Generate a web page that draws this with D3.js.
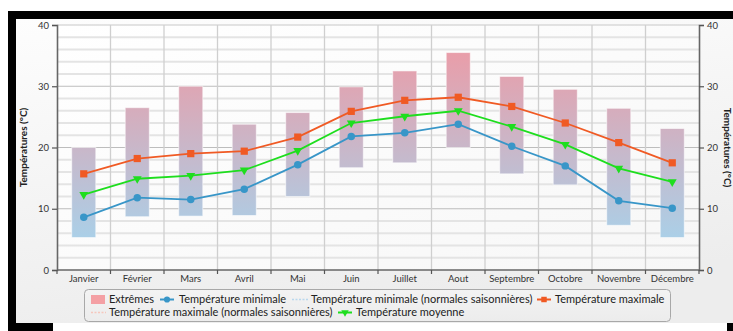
<!DOCTYPE html>
<html><head><meta charset="utf-8">
<script src="https://cdn.jsdelivr.net/npm/d3@7"></script>
<style>html,body{margin:0;padding:0;background:#fff;}svg{display:block;font-family:"Lato","Noto Sans",sans-serif;}</style>
</head><body>
<svg id="c" width="733" height="331"></svg>
<script>
const months = ["Janvier","Février","Mars","Avril","Mai","Juin","Juillet","Aout","Septembre","Octobre","Novembre","Décembre"];
const extremeLow  = [5.3, 8.7, 8.8, 8.9, 12.0, 16.7, 17.5, 20.0, 15.7, 13.9, 7.3, 5.3];
const extremeHigh = [20.0, 26.5, 30.0, 23.8, 25.7, 29.9, 32.5, 35.5, 31.6, 29.5, 26.4, 23.1];
const tempMin = [8.6, 11.8, 11.5, 13.2, 17.2, 21.8, 22.4, 23.8, 20.2, 17.0, 11.3, 10.1];
const tempMax = [15.7, 18.2, 19.0, 19.4, 21.7, 25.9, 27.7, 28.2, 26.7, 24.0, 20.8, 17.5];
const tempMoy = [12.3, 14.9, 15.4, 16.3, 19.5, 24.0, 25.1, 26.0, 23.4, 20.5, 16.6, 14.4];
const yTicks = [0, 10, 20, 30, 40];
const axisTitle = "Températures (°C)";
const legendLabels = ["Extrêmes","Température minimale","Température minimale (normales saisonnières)","Température maximale","Température maximale (normales saisonnières)","Température moyenne"];

const svg = d3.select("#c");
const defs = svg.append("defs");
const L = 57, R = 699, T = 25, B = 270;
const x = d3.scaleBand().domain(months).range([L, R]).padding(0);
const y = d3.scaleLinear().domain([0, 40]).range([B, T]);

// frame
svg.append("rect").attr("x",8).attr("y",11).attr("width",725).attr("height",320).attr("fill","#000");
const pg = defs.append("linearGradient").attr("id","panelG").attr("x1",0).attr("y1",0).attr("x2",0.3).attr("y2",1);
pg.append("stop").attr("offset","0%").attr("stop-color","#fdfdfd");
pg.append("stop").attr("offset","100%").attr("stop-color","#ededed");
svg.append("rect").attr("x",16).attr("y",19).attr("width",717).attr("height",304).attr("fill","url(#panelG)");
svg.append("rect").attr("x",53).attr("y",323).attr("width",674).attr("height",8).attr("fill","#fff");

// plot background
const plg = defs.append("linearGradient").attr("id","plotG").attr("x1",0).attr("y1",0).attr("x2",1).attr("y2",1);
plg.append("stop").attr("offset","0%").attr("stop-color","#ffffff");
plg.append("stop").attr("offset","100%").attr("stop-color","#f7f7f7");
svg.append("rect").attr("x",L).attr("y",T).attr("width",R-L).attr("height",B-T).attr("fill","url(#plotG)");

// minor grid
const minor = d3.range(2, 40, 2).filter(v => v % 10 !== 0);
svg.append("g").selectAll("line").data(minor).join("line")
  .attr("x1",L).attr("x2",R).attr("y1",d=>y(d)).attr("y2",d=>y(d))
  .attr("stroke","#e4e4e4").attr("stroke-width",2);
// major grid
svg.append("g").selectAll("line").data(yTicks.filter(v=>v>0)).join("line")
  .attr("x1",L).attr("x2",R).attr("y1",d=>y(d)).attr("y2",d=>y(d))
  .attr("stroke", d => d===40 ? "#c8c8c8" : "#bdbdbd").attr("stroke-width",1);
// vertical grid
svg.append("g").selectAll("line").data(months.slice(1)).join("line")
  .attr("x1",d=>x(d)).attr("x2",d=>x(d)).attr("y1",T).attr("y2",B)
  .attr("stroke","#cfcfcf").attr("stroke-width",1.3);

// bars gradient
const bg = defs.append("linearGradient").attr("id","barG").attr("gradientUnits","userSpaceOnUse")
  .attr("x1",0).attr("x2",0).attr("y1",y(40)).attr("y2",y(0));
bg.append("stop").attr("offset","0%").attr("stop-color","rgb(242,150,160)");
bg.append("stop").attr("offset","100%").attr("stop-color","rgb(160,216,242)");
const bw = x.bandwidth()*0.45;
svg.append("g").selectAll("rect").data(months).join("rect")
  .attr("x",d=>x(d)+x.bandwidth()/2-bw/2).attr("width",bw)
  .attr("y",(d,i)=>y(extremeHigh[i])).attr("height",(d,i)=>y(extremeLow[i])-y(extremeHigh[i]))
  .attr("fill","url(#barG)").attr("stroke","rgba(255,255,255,0.55)").attr("stroke-width",1);

// axes
const gl = svg.append("g").attr("transform",`translate(${L},0)`)
  .call(d3.axisLeft(y).tickValues(yTicks).tickSize(5).tickPadding(3).tickFormat(d3.format("d")));
const gr = svg.append("g").attr("transform",`translate(${R},0)`)
  .call(d3.axisRight(y).tickValues(yTicks).tickSize(5).tickPadding(3).tickFormat(d3.format("d")));
const gb = svg.append("g").attr("transform",`translate(0,${B})`)
  .call(d3.axisBottom(x).tickSize(0).tickPadding(5));
[gl,gr,gb].forEach(g=>{
  g.select(".domain").attr("stroke","#666").attr("stroke-width",1.6);
  g.selectAll(".tick line").attr("stroke","#555").attr("stroke-width",1.2);
  g.selectAll("text").attr("fill","#333").attr("font-size",9.5).attr("font-family","Lato, 'Noto Sans', sans-serif");
});
gb.select(".domain").attr("d",`M${L},0H${R}`);
// x boundary ticks
svg.append("g").selectAll("line").data(months.concat(["_end"])).join("line")
  .attr("x1",(d,i)=> i<12 ? x(d) : R).attr("x2",(d,i)=> i<12 ? x(d) : R)
  .attr("y1",B).attr("y2",B+4).attr("stroke","#555").attr("stroke-width",1.2);

// axis titles
svg.append("text").attr("transform",`translate(27,${(T+B)/2-0}) rotate(-90)`)
  .attr("text-anchor","middle").attr("font-weight","bold").attr("font-size",10).attr("fill","#222").text(axisTitle);
svg.append("text").attr("transform",`translate(724,${(T+B)/2}) rotate(90)`)
  .attr("text-anchor","middle").attr("font-weight","bold").attr("font-size",10).attr("fill","#222").text(axisTitle);

// lines
const cx = d => x(d)+x.bandwidth()/2;
const series = [
  {vals: tempMin, color:"#3896c8", sym: d3.symbolCircle, size: 44, rot: 0},
  {vals: tempMoy, color:"#1ede1e", sym: d3.symbolTriangle, size: 34, rot: 180},
  {vals: tempMax, color:"#f05a24", sym: d3.symbolSquare, size: 52, rot: 0},
];
series.forEach(s=>{
  const line = d3.line().x((d,i)=>cx(months[i])).y(d=>y(d));
  svg.append("path").datum(s.vals).attr("d",line).attr("fill","none").attr("stroke",s.color).attr("stroke-width",1.8);
  svg.append("g").selectAll("path").data(s.vals).join("path")
    .attr("d", d3.symbol().type(s.sym).size(s.size))
    .attr("transform",(d,i)=>`translate(${cx(months[i])},${y(d)}) rotate(${s.rot})`)
    .attr("fill",s.color);
});

// legend
const lg = svg.append("g");
const lgG = defs.append("linearGradient").attr("id","legG").attr("x1",0).attr("y1",0).attr("x2",0).attr("y2",1);
lgG.append("stop").attr("offset","0%").attr("stop-color","#f3f3f3");
lgG.append("stop").attr("offset","100%").attr("stop-color","#ececec");
lg.append("rect").attr("x",84.5).attr("y",289.5).attr("width",586).attr("height",32).attr("rx",4)
  .attr("fill","url(#legG)").attr("stroke","#a8a8a8").attr("stroke-width",1);
const fs = 11;
const r1 = 303, r2 = 316;
// Extrêmes
lg.append("rect").attr("x",91).attr("y",295).attr("width",14).attr("height",9).attr("fill","#f4a0a4");
lg.append("text").attr("x",109).attr("y",r1).text(legendLabels[0]);
// min
function markerItem(x0, yy, color, sym, size, rot){
  lg.append("line").attr("x1",x0).attr("x2",x0+14).attr("y1",yy).attr("y2",yy).attr("stroke",color).attr("stroke-width",2);
  lg.append("path").attr("d",d3.symbol().type(sym).size(size)).attr("transform",`translate(${x0+7},${yy}) rotate(${rot})`).attr("fill",color);
}
markerItem(160, r1-3.5, "#3896c8", d3.symbolCircle, 30, 0);
lg.append("text").attr("x",179).attr("y",r1).text(legendLabels[1]);
lg.append("line").attr("x1",292).attr("x2",308).attr("y1",r1-3.5).attr("y2",r1-3.5).attr("stroke","#b9d8ee").attr("stroke-width",1.5).attr("stroke-dasharray","2,1.5");
lg.append("text").attr("x",311).attr("y",r1).text(legendLabels[2]);
markerItem(537, r1-3.5, "#f05a24", d3.symbolSquare, 30, 0);
lg.append("text").attr("x",555).attr("y",r1).text(legendLabels[3]);
lg.append("line").attr("x1",91).attr("x2",106).attr("y1",r2-3.5).attr("y2",r2-3.5).attr("stroke","#f6c7bd").attr("stroke-width",1.5).attr("stroke-dasharray","2,1.5");
lg.append("text").attr("x",109).attr("y",r2).text(legendLabels[4]);
markerItem(338, r2-3.5, "#1ede1e", d3.symbolTriangle, 24, 180);
lg.append("text").attr("x",356).attr("y",r2).text(legendLabels[5]);
lg.selectAll("text").attr("font-size",fs).attr("fill","#222");
</script>
</body></html>
